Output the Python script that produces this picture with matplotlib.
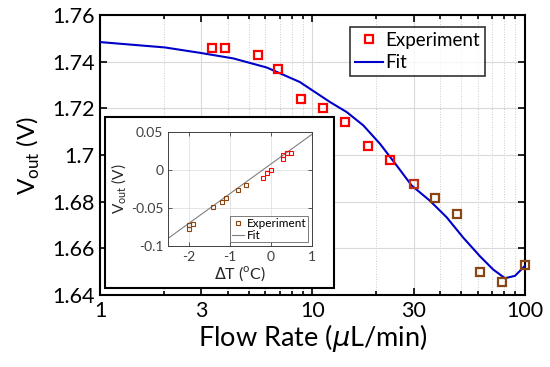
import matplotlib
matplotlib.use("Agg")
import matplotlib.pyplot as plt
from matplotlib.patches import Rectangle

plt.rcParams['font.family'] = ['Lato', 'DejaVu Sans']
plt.rcParams['axes.unicode_minus'] = False
plt.rcParams['mathtext.fontset'] = 'dejavusans'

# main plot data
flow = [3.37, 3.87, 5.54, 6.86, 8.83, 11.2, 14.2, 18.2, 23.2, 30.0,
        37.7, 47.9, 61.4, 78.0, 100.0]
vout = [1.746, 1.746, 1.7428, 1.7368, 1.7239, 1.7200, 1.7140, 1.7037,
        1.6980, 1.6877, 1.6817, 1.6748, 1.6499, 1.6456, 1.6529]
RED = '#ff0000'
BROWN = '#8b4513'
MID = '#c0301a'
pt_colors = [RED] * 9 + [MID] + [BROWN] * 5

# fit curve
fit_flow = [1.0, 2.02, 2.95, 4.24, 6.09, 8.71, 12.09, 14.49, 17.34, 20.78,
            24.9, 29.3, 35.7, 42.8, 51.2, 61.4, 70.9, 80.5, 89.7, 100.0]
fit_vout = [1.7484, 1.7461, 1.7438, 1.7414, 1.7375, 1.7313, 1.7227, 1.7184,
            1.7127, 1.7048, 1.6955, 1.6869, 1.6804, 1.6733, 1.6646, 1.6566,
            1.6509, 1.6472, 1.6482, 1.6525]

x_ticks = [1, 3, 10, 30, 100]
x_labels = ['1', '3', '10', '30', '100']
y_ticks = [1.64, 1.66, 1.68, 1.70, 1.72, 1.74, 1.76]
y_labels = ['1.64', '1.66', '1.68', '1.7', '1.72', '1.74', '1.76']

# inset data
dT = [0.5, 0.4, 0.3, 0.3, 0.0, -0.1, -0.2, -0.6, -0.8, -1.1, -1.2, -1.4,
      -2.0, -2.0, -1.9]
dV = [0.022, 0.023, 0.020, 0.014, 0.000, -0.004, -0.010, -0.020, -0.026,
      -0.037, -0.042, -0.049, -0.073, -0.078, -0.071]
inset_colors = [RED] * 7 + [BROWN] * 8
inset_fit_x = [-2.5, 1.0]
inset_fit_y = [-0.090, 0.047]

fig = plt.figure(figsize=(5.5, 3.67), dpi=100)
ax = fig.add_axes([0.1818, 0.1962, 0.7727, 0.7629])

ax.plot(fit_flow, fit_vout, color='#0000c8', lw=1.5, label='Fit', zorder=3)
for i in range(len(flow)):
    ax.plot(flow[i], vout[i], 's', ms=6, mfc='none', mec=pt_colors[i],
            mew=1.6, zorder=4, clip_on=False)
# legend proxy
ax.plot([], [], 's', ms=6, mfc='none', mec=RED, mew=1.6, label='Experiment')

ax.set_xscale('log')
ax.set_xlim(1, 100)
ax.set_ylim(1.64, 1.76)
ax.set_xticks(x_ticks)
ax.set_xticklabels(x_labels)
minors = [2, 4, 5, 6, 7, 8, 9, 20, 40, 50, 60, 70, 80, 90]
ax.set_xticks(minors, minor=True)
ax.set_xticklabels([], minor=True)
ax.set_yticks(y_ticks)
ax.set_yticklabels(y_labels)
ax.tick_params(which='both', direction='in', top=True, right=True,
               labelsize=15.5, width=1.2, colors='black')
ax.tick_params(which='major', length=5, pad=4)
ax.tick_params(which='minor', length=3)
ax.grid(which='major', color='#d9d9d9', lw=0.8, ls='-')
ax.grid(which='minor', axis='x', color='#cccccc', lw=0.7, ls=':')
ax.set_axisbelow(True)
for s in ax.spines.values():
    s.set_linewidth(1.5)
ax.set_xlabel(r'Flow Rate ($\mu$L/min)', fontsize=19.5, labelpad=1)
ax.set_ylabel(r'V$_\mathregular{out}$ (V)', fontsize=17.5, labelpad=7)

h, l = ax.get_legend_handles_labels()
leg = ax.legend(h[::-1], l[::-1], loc='upper right',
                bbox_to_anchor=(0.906, 0.957), fontsize=13.5, frameon=True,
                fancybox=False, edgecolor='black', handlelength=1.5,
                handletextpad=0.15, borderpad=0.25, labelspacing=0.3,
                borderaxespad=0)
leg.get_frame().set_linewidth(1.2)

# inset frame
fig.patches.append(Rectangle((0.191, 0.2153), 0.4164, 0.466,
                             transform=fig.transFigure, facecolor='white',
                             edgecolor='black', lw=1.5, zorder=5))

axi = fig.add_axes([0.3055, 0.3297, 0.2618, 0.3106], zorder=6)
axi.plot(inset_fit_x, inset_fit_y, color='#808080', lw=0.8, label='Fit')
for i in range(len(dT)):
    axi.plot(dT[i], dV[i], 's', ms=3, mfc='none', mec=inset_colors[i],
             mew=0.8)
axi.plot([], [], 's', ms=3, mfc='none', mec=BROWN, mew=0.8,
         label='Experiment')
axi.set_xlim(-2.5, 1)
axi.set_ylim(-0.1, 0.05)
axi.set_xticks([-2, -1, 0, 1])
axi.set_xticklabels(['-2', '-1', '0', '1'])
axi.set_yticks([-0.1, -0.05, 0, 0.05])
axi.set_yticklabels(['-0.1', '-0.05', '0', '0.05'])
axi.tick_params(direction='in', top=True, right=True, labelsize=10,
                length=3, width=0.6, colors='#404040')
axi.grid(color='#e0e0e0', lw=0.6)
axi.set_axisbelow(True)
for s in axi.spines.values():
    s.set_linewidth(0.7)
    s.set_color('#404040')
axi.set_xlabel(r'$\Delta$T ($^\mathregular{o}$C)', fontsize=11.5, labelpad=1,
               color='#262626')
axi.set_ylabel(r'V$_\mathregular{out}$ (V)', fontsize=11, labelpad=1,
               color='#262626')
h, l = axi.get_legend_handles_labels()
li = axi.legend(h[::-1], l[::-1], loc='lower right', fontsize=8.5,
                fancybox=False, edgecolor='#404040', handlelength=1.0,
                handletextpad=0.3, borderpad=0.15, labelspacing=0.05,
                borderaxespad=0.3)
li.get_frame().set_linewidth(0.6)

fig.savefig('out.png', dpi=100)
